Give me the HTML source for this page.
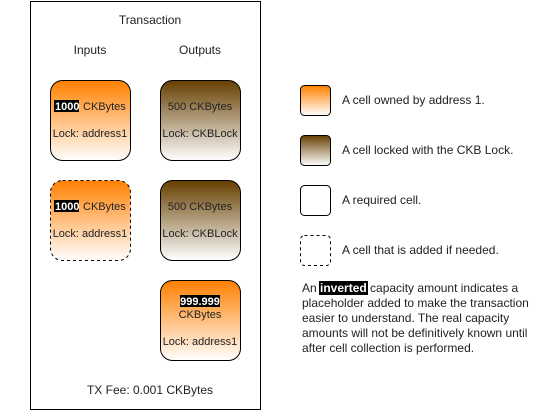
<!DOCTYPE html>
<html><head><meta charset="utf-8"><style>
html,body{margin:0;padding:0;background:#fff;width:541px;height:411px;overflow:hidden}
svg text{font-family:"Liberation Sans",Arial,sans-serif;font-size:11px;fill:#222}
svg text.l{font-size:12px}
</style></head><body>
<svg width="541" height="411" viewBox="0 0 541 411" xmlns="http://www.w3.org/2000/svg">
<defs>
<linearGradient id="o" x1="0" y1="0" x2="0" y2="1"><stop offset="0" stop-color="#ff8000"/><stop offset="1" stop-color="#ffffff"/></linearGradient>
<linearGradient id="b" x1="0" y1="0" x2="0" y2="1"><stop offset="0" stop-color="#663f00"/><stop offset="1" stop-color="#ffffff"/></linearGradient>
</defs>
<rect x="30.5" y="1.5" width="230" height="408" fill="#fff" stroke="#000" stroke-width="1"/>
<text class="l" x="150" y="24" text-anchor="middle">Transaction</text>
<text class="l" x="90" y="54" text-anchor="middle">Inputs</text>
<text class="l" x="200" y="54" text-anchor="middle">Outputs</text>

<rect x="50.5" y="80.5" width="80" height="80" rx="12" fill="url(#o)" stroke="#000"/>
<rect x="54" y="100" width="25" height="12" fill="#000"/>
<text x="55" y="110" style="fill:#fff;font-weight:bold">1000</text>
<text x="83" y="110">CKBytes</text>
<text x="90" y="137" text-anchor="middle">Lock: address1</text>

<rect x="160.5" y="80.5" width="80" height="80" rx="12" fill="url(#b)" stroke="#000"/>
<text x="200" y="110" text-anchor="middle">500 CKBytes</text>
<text x="200" y="137" text-anchor="middle">Lock: CKBLock</text>

<rect x="50.5" y="180.5" width="80" height="80" rx="12" fill="url(#o)" stroke="#000" stroke-dasharray="3,3"/>
<rect x="54" y="200" width="25" height="12" fill="#000"/>
<text x="55" y="210" style="fill:#fff;font-weight:bold">1000</text>
<text x="83" y="210">CKBytes</text>
<text x="90" y="237" text-anchor="middle">Lock: address1</text>

<rect x="160.5" y="180.5" width="80" height="80" rx="12" fill="url(#b)" stroke="#000"/>
<text x="200" y="210" text-anchor="middle">500 CKBytes</text>
<text x="200" y="237" text-anchor="middle">Lock: CKBLock</text>

<rect x="160.5" y="280.5" width="80" height="80" rx="12" fill="url(#o)" stroke="#000"/>
<rect x="180" y="295" width="40" height="12" fill="#000"/>
<text x="200" y="305" text-anchor="middle" style="fill:#fff;font-weight:bold">999.999</text>
<text x="200" y="318" text-anchor="middle">CKBytes</text>
<text x="200" y="345" text-anchor="middle">Lock: address1</text>

<text class="l" x="150" y="394" text-anchor="middle">TX Fee: 0.001 CKBytes</text>

<rect x="300.5" y="85.5" width="30" height="30" rx="4" fill="url(#o)" stroke="#000"/>
<text class="l" x="342" y="104">A cell owned by address 1.</text>
<rect x="300.5" y="135.5" width="30" height="30" rx="4" fill="url(#b)" stroke="#000"/>
<text class="l" x="342" y="154">A cell locked with the CKB Lock.</text>
<rect x="300.5" y="185.5" width="30" height="30" rx="4" fill="#fff" stroke="#000"/>
<text class="l" x="342" y="204">A required cell.</text>
<rect x="300.5" y="235.5" width="30" height="30" rx="4" fill="#fff" stroke="#000" stroke-dasharray="3,3"/>
<text class="l" x="342" y="254">A cell that is added if needed.</text>

<rect x="319" y="281" width="49" height="14" fill="#000"/>
<text class="l" x="302" y="292">An <tspan style="fill:#fff;font-weight:bold">inverted</tspan> capacity amount indicates a</text>
<text class="l" x="302" y="307">placeholder added to make the transaction</text>
<text class="l" x="302" y="322">easier to understand. The real capacity</text>
<text class="l" x="302" y="337">amounts will not be definitively known until</text>
<text class="l" x="302" y="352">after cell collection is performed.</text>
</svg>
</body></html>
